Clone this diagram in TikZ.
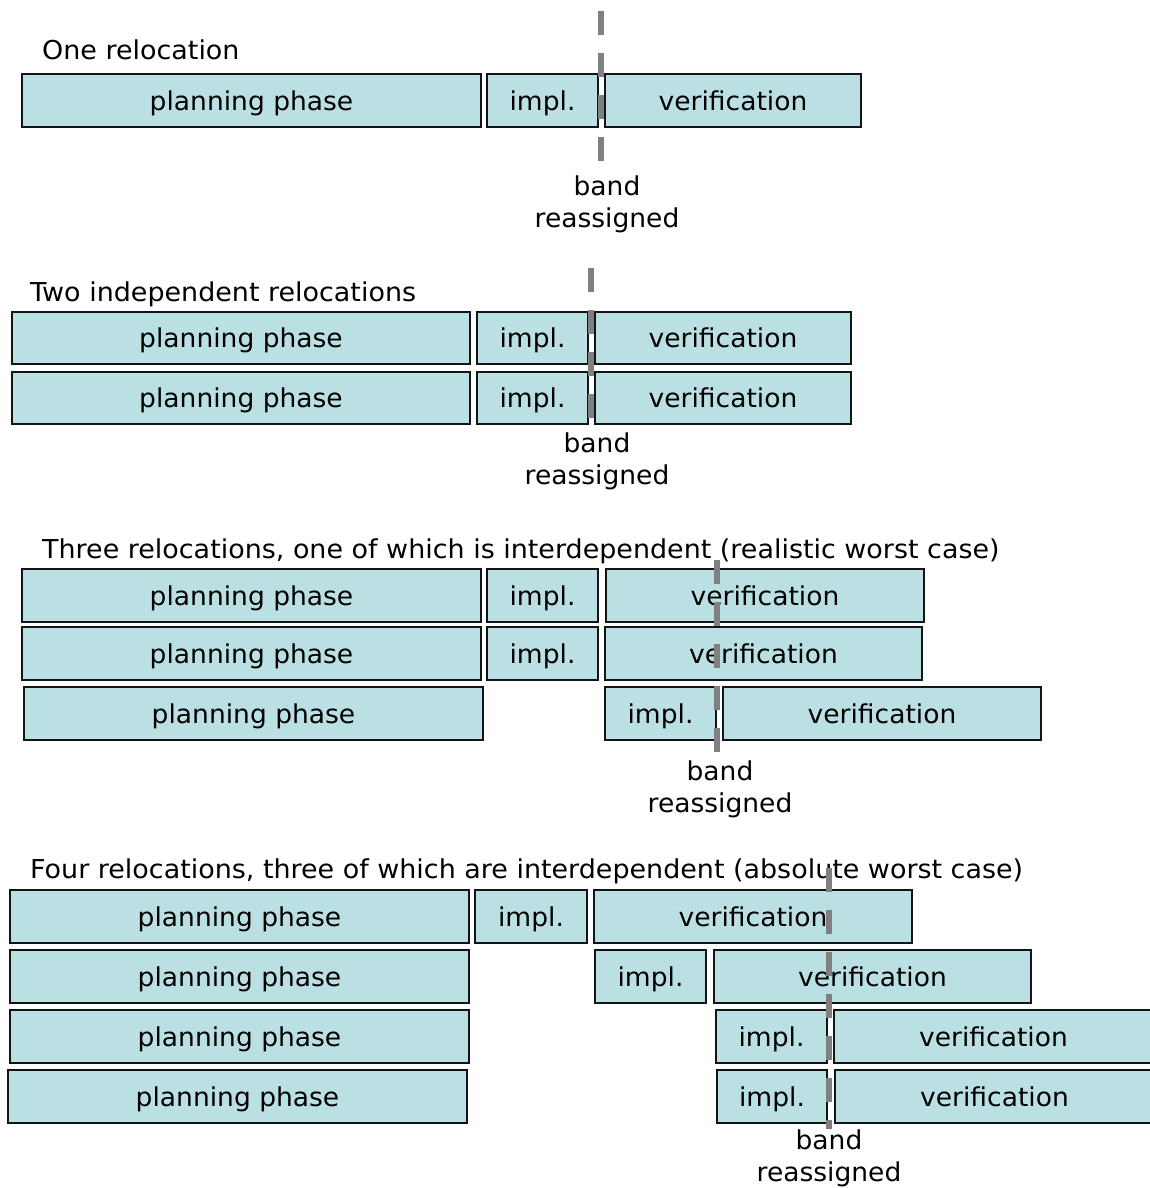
\documentclass[tikz,border=0pt]{standalone}
\usepackage{fontspec}
\setmainfont[FakeStretch=1.02]{DejaVu Sans}
\newfontfamily\titlefont[FakeStretch=1.036]{DejaVu Sans}
\definecolor{boxfill}{RGB}{187,224,227}
\definecolor{boxline}{RGB}{20,20,20}
\definecolor{bandgray}{RGB}{128,128,128}
\tikzset{
  box/.style={draw=boxline, line width=1.8pt, fill=boxfill, inner sep=0pt,
    font=\fontsize{26}{31}\selectfont, text height=22.5pt, text depth=2.7pt},
  title/.style={anchor=base west, inner sep=0pt, font=\titlefont\fontsize{26}{31}\selectfont},
  bandlabel/.style={align=center, inner sep=0pt, font=\fontsize{26}{32}\selectfont},
  bandline/.style={draw=bandgray, line width=6.5pt, dash pattern=on 24pt off 18pt}
}
\newcommand\bx[6]{\node[box, minimum width={(#4-#2)*1pt}, minimum height={(#5-#3)*1pt}] (#1) at ({(#2+#4)/2},{(#3+#5)/2}) {#6};}
\begin{document}
\begin{tikzpicture}[x=1pt,y=-1pt]
\useasboundingbox (0,0) rectangle (1150,1188);
\clip (0,0) rectangle (1150,1188);
\fill[white] (0,0) rectangle (1150,1188);

% ---------- Section 1 ----------
\node[title] (t1) at (42,60) {One relocation};
\bx{p1}{22}{74}{481}{127}{planning phase}
\bx{i1}{487}{74}{598}{127}{impl.}
\bx{v1}{605}{74}{861}{127}{verification}
\coordinate (d1a) at (601,11);
\coordinate (d1b) at (601,161);
\draw[bandline] (d1a) -- (d1b);
\node[bandlabel] (b1) at (607,204) {band\\reassigned};

% ---------- Section 2 ----------
\node[title] (t2) at (30,301) {Two independent relocations};
\bx{p2a}{12}{312}{470}{364}{planning phase}
\bx{i2a}{477}{312}{588}{364}{impl.}
\bx{v2a}{595}{312}{851}{364}{verification}
\bx{p2b}{12}{372}{470}{424}{planning phase}
\bx{i2b}{477}{372}{588}{424}{impl.}
\bx{v2b}{595}{372}{851}{424}{verification}
\coordinate (d2a) at (591,268);
\coordinate (d2b) at (591,418);
\draw[bandline] (d2a) -- (d2b);
\node[bandlabel] (b2) at (597,461) {band\\reassigned};

% ---------- Section 3 ----------
\node[title] (t3) at (42,558) {Three relocations, one of which is interdependent (realistic worst case)};
\bx{p3a}{22}{569}{481}{622}{planning phase}
\bx{i3a}{487}{569}{598}{622}{impl.}
\bx{v3a}{606}{569}{924}{622}{verification}
\bx{p3b}{22}{627}{481}{680}{planning phase}
\bx{i3b}{487}{627}{598}{680}{impl.}
\bx{v3b}{605}{627}{922}{680}{verification}
\bx{p3c}{24}{687}{483}{740}{planning phase}
\bx{i3c}{605}{687}{716}{740}{impl.}
\bx{v3c}{723}{687}{1041}{740}{verification}
\coordinate (d3a) at (717,560);
\coordinate (d3b) at (717,752);
\draw[bandline] (d3a) -- (d3b);
\node[bandlabel] (b3) at (720,789) {band\\reassigned};

% ---------- Section 4 ----------
\node[title] (t4) at (30,878) {Four relocations, three of which are interdependent (absolute worst case)};
\bx{p4a}{10}{890}{469}{943}{planning phase}
\bx{i4a}{475}{890}{587}{943}{impl.}
\bx{v4a}{594}{890}{912}{943}{verification}
\bx{p4b}{10}{950}{469}{1003}{planning phase}
\bx{i4b}{595}{950}{706}{1003}{impl.}
\bx{v4b}{714}{950}{1031}{1003}{verification}
\bx{p4c}{10}{1010}{469}{1063}{planning phase}
\bx{i4c}{716}{1010}{827}{1063}{impl.}
\bx{v4c}{834}{1010}{1153}{1063}{verification}
\bx{p4d}{8}{1070}{467}{1123}{planning phase}
\bx{i4d}{717}{1070}{827}{1123}{impl.}
\bx{v4d}{835}{1070}{1154}{1123}{verification}
\coordinate (d4a) at (829,868);
\coordinate (d4b) at (829,1129);
\draw[bandline] (d4a) -- (d4b);
\node[bandlabel] (b4) at (829,1158) {band\\reassigned};
\end{tikzpicture}
\end{document}
